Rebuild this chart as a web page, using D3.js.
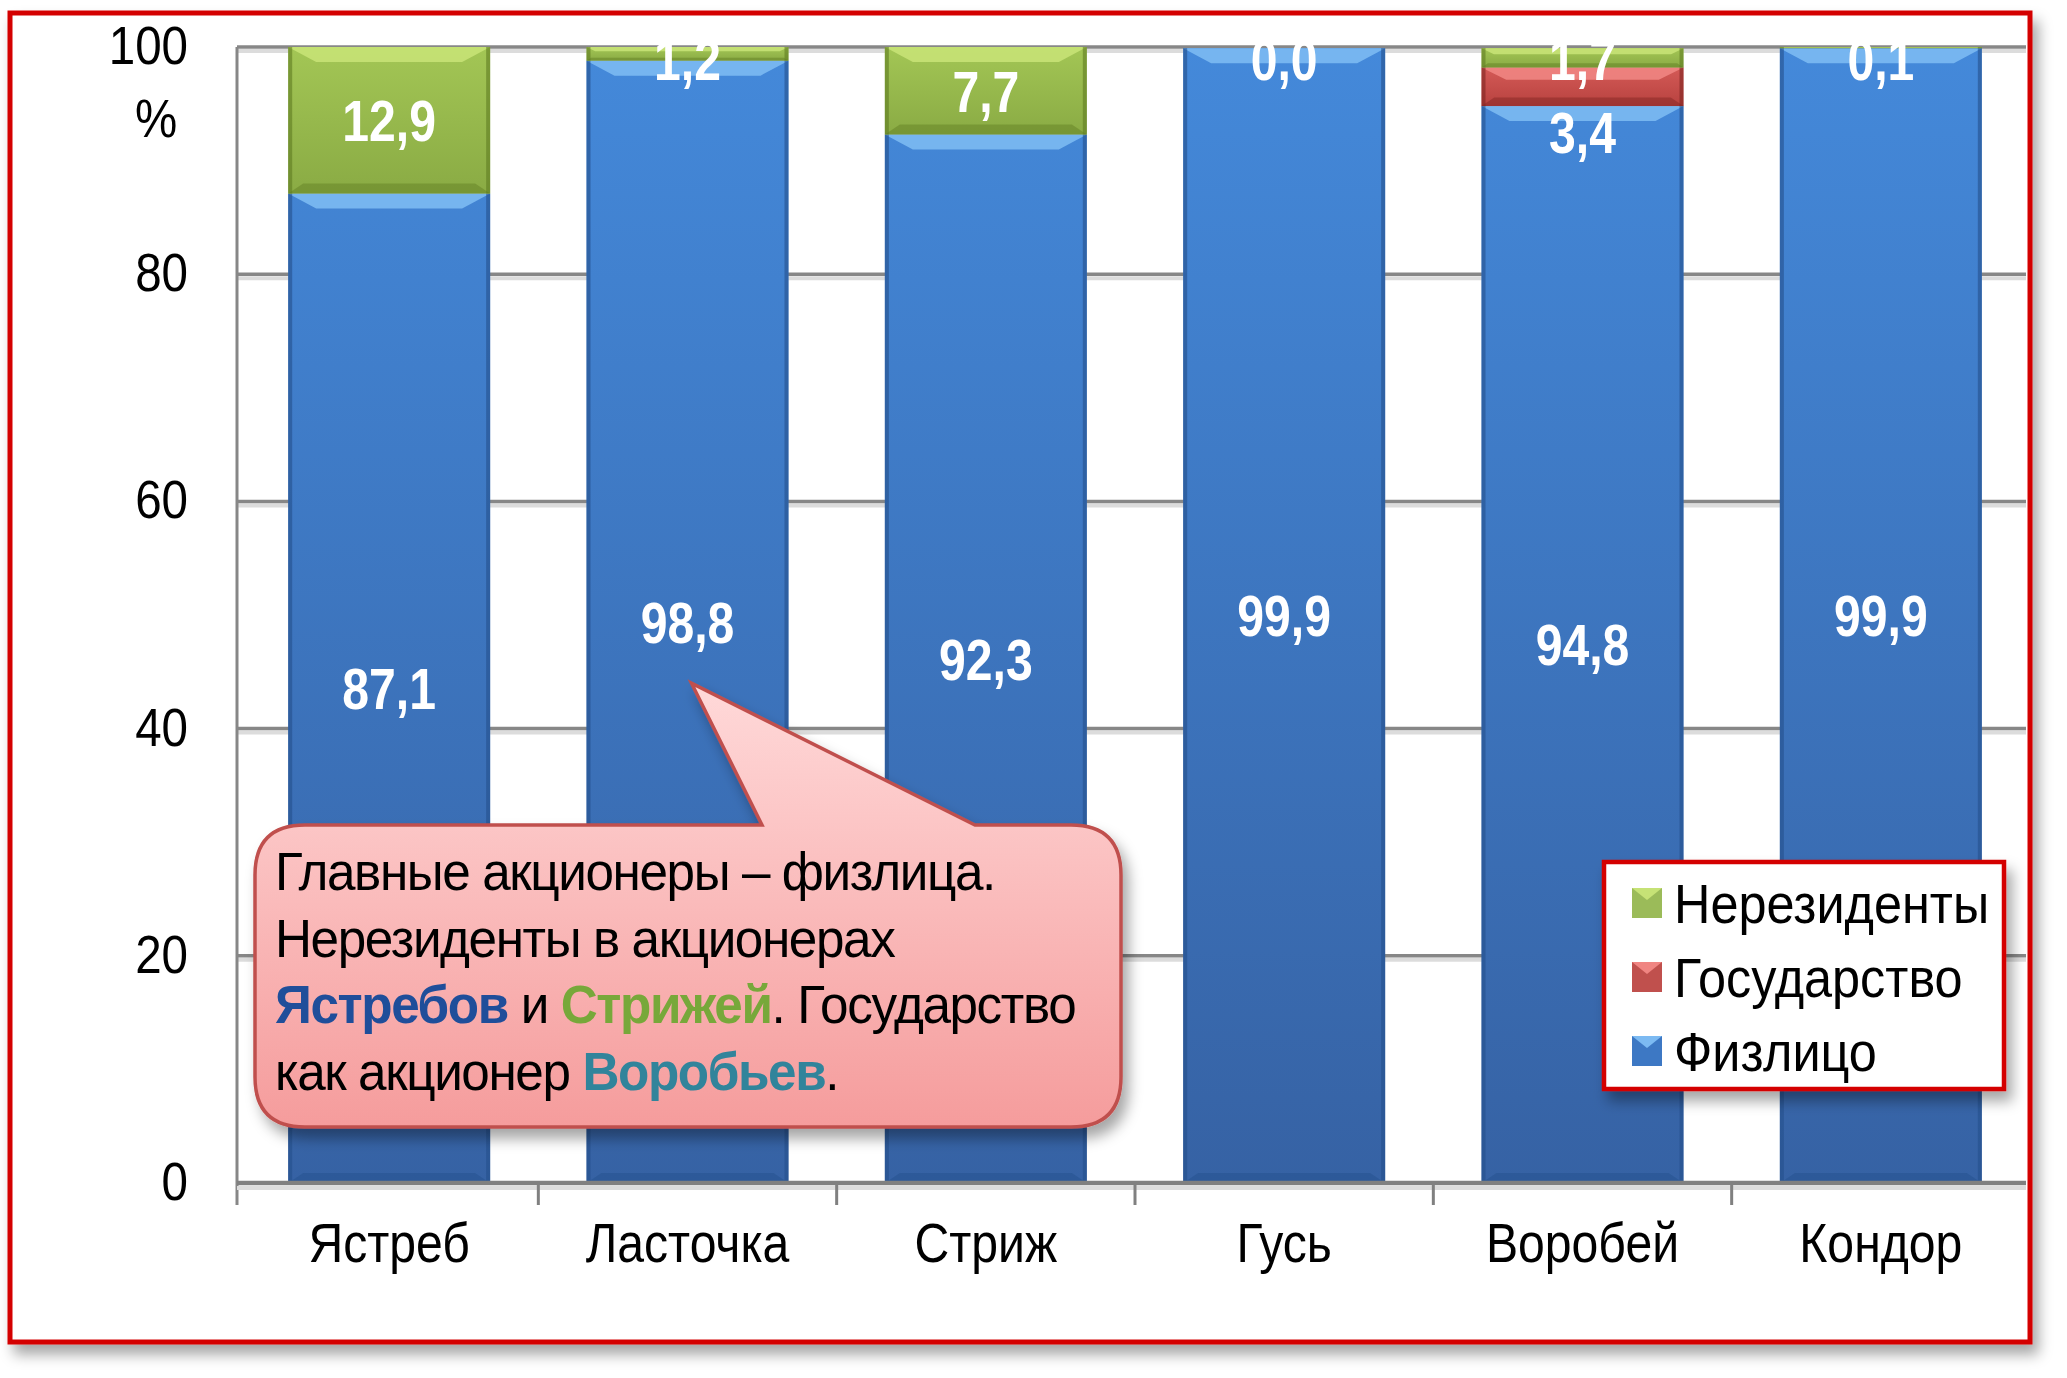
<!DOCTYPE html>
<html>
<head>
<meta charset="utf-8">
<script src="https://cdn.jsdelivr.net/npm/d3@7"></script>
<style>
  html, body { margin: 0; padding: 0; background: #fff; }
  svg { display: block; font-family: "Liberation Sans", Arial, sans-serif; }
</style>
</head>
<body>
<script>
const categories = ["Ястреб", "Ласточка", "Стриж", "Гусь", "Воробей", "Кондор"];
const individuals = [87.1, 98.8, 92.3, 99.9, 94.8, 99.9];
const state = [null, null, null, null, 3.4, null];
const nonResidents = [12.9, 1.2, 7.7, 0.0, 1.7, 0.1];
const seriesNames = ["Физлицо", "Государство", "Нерезиденты"];
const yTicks = [0, 20, 40, 60, 80, 100];

const width = 2067, height = 1378;
const pLeft = 237, pRight = 2026, pTop = 47, pBottom = 1183;

const svg = d3.select("body").append("svg")
  .attr("width", width).attr("height", height);
const defs = svg.append("defs");

// shadow for boxes
const sh = defs.append("filter").attr("id", "shadow").attr("x", "-5%").attr("y", "-5%").attr("width", "115%").attr("height", "120%");
sh.append("feDropShadow").attr("dx", 6).attr("dy", 10).attr("stdDeviation", 7).attr("flood-color", "#000").attr("flood-opacity", 0.35);

const grad = (id, stops, y1, y2, user) => {
  const g = defs.append("linearGradient").attr("id", id)
    .attr("x1", 0).attr("x2", 0).attr("y1", y1).attr("y2", y2);
  if (user) g.attr("gradientUnits", "userSpaceOnUse");
  stops.forEach(([o, c]) => g.append("stop").attr("offset", o).attr("stop-color", c));
};
grad("blueMain", [[0, "#4489da"], [1, "#3662a4"]], pTop, pBottom, true);
grad("greenMain", [[0, "#a3c655"], [1, "#8aab44"]], 0, 1);
grad("redMain", [[0, "#d45a57"], [1, "#b8423f"]], 0, 1);
grad("note", [[0, "#ffd9d9"], [1, "#f59c9c"]], 0, 1);

const palette = {
  "Физлицо": { main: "url(#blueMain)", light: "#7cbaf2", dark: "#24508c", legend: "#3d78c4" },
  "Государство": { main: "url(#redMain)", light: "#f08582", dark: "#7e2422", legend: "#c0504d" },
  "Нерезиденты": { main: "url(#greenMain)", light: "#c6e276", dark: "#5f7c22", legend: "#9bbb59" }
};

// outer frame
svg.append("rect").attr("x", 10).attr("y", 13).attr("width", 2020).attr("height", 1329)
  .attr("fill", "#fff").attr("stroke", "#d40000").attr("stroke-width", 5)
  .attr("filter", "url(#shadow)");

const x = d3.scaleBand().domain(categories).range([pLeft + 3, pRight + 4]).paddingInner(0.323).paddingOuter(0.1615);
const y = d3.scaleLinear().domain([0, 100]).range([pBottom, pTop]);

// gridlines with a soft shadow line under each
const grid = svg.append("g");
grid.selectAll("line.sh").data(yTicks.filter(d => d > 0)).join("line").attr("class", "sh")
  .attr("x1", pLeft).attr("x2", pRight).attr("y1", d => y(d) + 4).attr("y2", d => y(d) + 4)
  .attr("stroke", "#dcdcdc").attr("stroke-width", 4);
grid.selectAll("line.gl").data(yTicks.filter(d => d > 0)).join("line").attr("class", "gl")
  .attr("x1", pLeft).attr("x2", pRight).attr("y1", d => y(d)).attr("y2", d => y(d))
  .attr("stroke", "#878787").attr("stroke-width", 3.5);

// y axis line
svg.append("line").attr("x1", pLeft).attr("x2", pLeft).attr("y1", pTop).attr("y2", pBottom + 22)
  .attr("stroke", "#878787").attr("stroke-width", 3);

// y tick labels
svg.append("g").selectAll("text").data(yTicks).join("text")
  .attr("transform", d => `translate(188,${y(d) + 17}) scale(0.88,1)`)
  .attr("text-anchor", "end").attr("font-size", 54).attr("fill", "#000")
  .text(d => d);
svg.append("text").attr("transform", `translate(156,137) scale(0.88,1)`)
  .attr("text-anchor", "middle").attr("font-size", 54).text("%");

// stacked data
const rows = categories.map((c, i) => ({
  cat: c,
  "Физлицо": individuals[i],
  "Государство": state[i] ?? 0,
  "Нерезиденты": nonResidents[i],
  labels: { "Физлицо": individuals[i], "Государство": state[i], "Нерезиденты": nonResidents[i] }
}));
const stacked = d3.stack().keys(seriesNames)(rows);

const bw = x.bandwidth();
const barG = svg.append("g");
stacked.forEach(layer => {
  const col = palette[layer.key];
  layer.forEach(seg => {
    const xa = x(seg.data.cat);
    const yt = y(seg[1]), yb = y(seg[0]);
    const h = yb - yt;
    if (h <= 0.5) return;
    const g = barG.append("g");
    g.append("rect").attr("x", xa).attr("y", yt).attr("width", bw).attr("height", h)
      .attr("fill", col.main);
    const bh = Math.min(15, h * 0.32), bi = Math.min(28, bh * 2);
    g.append("path")
      .attr("d", `M${xa},${yt}H${xa + bw}L${xa + bw - bi},${yt + bh}H${xa + bi}Z`)
      .attr("fill", col.light).attr("opacity", 0.9);
    const dh = Math.min(10, h * 0.22);
    g.append("path")
      .attr("d", `M${xa},${yb}H${xa + bw}L${xa + bw - dh * 1.5},${yb - dh}H${xa + dh * 1.5}Z`)
      .attr("fill", col.dark).attr("opacity", 0.45);
    g.append("rect").attr("x", xa).attr("y", yt).attr("width", 4).attr("height", h)
      .attr("fill", col.dark).attr("opacity", 0.6);
    g.append("rect").attr("x", xa + bw - 4).attr("y", yt).attr("width", 4).attr("height", h)
      .attr("fill", col.dark).attr("opacity", 0.6);
  });
});

// x axis baseline and ticks
svg.append("line").attr("x1", pLeft).attr("x2", pRight).attr("y1", pBottom + 5).attr("y2", pBottom + 5)
  .attr("stroke", "#dcdcdc").attr("stroke-width", 4);
svg.append("line").attr("x1", pLeft).attr("x2", pRight).attr("y1", pBottom).attr("y2", pBottom)
  .attr("stroke", "#808080").attr("stroke-width", 4.5);
svg.append("g").selectAll("line").data(d3.range(1, categories.length)).join("line")
  .attr("x1", i => x.range()[0] + i * x.step())
  .attr("x2", i => x.range()[0] + i * x.step())
  .attr("y1", pBottom).attr("y2", pBottom + 22)
  .attr("stroke", "#808080").attr("stroke-width", 3);

// category labels
svg.append("g").selectAll("text").data(categories).join("text")
  .attr("transform", d => `translate(${x(d) + bw / 2},1262) scale(0.86,1)`)
  .attr("text-anchor", "middle").attr("font-size", 56).attr("fill", "#000")
  .text(d => d);

// data labels, clipped to the plot area
defs.append("clipPath").attr("id", "plotClip").append("rect")
  .attr("x", pLeft).attr("y", pTop - 3).attr("width", pRight - pLeft).attr("height", pBottom - pTop);
const fmt = v => d3.format(".1f")(v).replace(".", ",");
const lblG = svg.append("g").attr("clip-path", "url(#plotClip)");
const fs = 58;
stacked.forEach(layer => {
  layer.forEach(seg => {
    const v = seg.data.labels[layer.key];
    if (v == null) return;
    let cy = (y(seg[0]) + y(seg[1])) / 2;
    if (layer.key === "Государство") cy = y(seg[0]) + fs * 0.45;
    cy = Math.max(cy, pTop + 12);
    lblG.append("text")
      .attr("transform", `translate(${x(seg.data.cat) + bw / 2},${cy + fs * 0.36}) scale(0.83,1)`)
      .attr("text-anchor", "middle").attr("font-size", fs).attr("font-weight", "bold")
      .attr("fill", "#fff").text(fmt(v));
  });
});

// callout pointing at the Ласточка bar
const note = svg.append("g").attr("filter", "url(#shadow)");
const nx0 = 255, nx1 = 1121, ny0 = 825, ny1 = 1127, r = 50;
const tipX = x("Ласточка") + bw / 2 + 4;
note.append("path")
  .attr("d", `M${nx0 + r},${ny0} H762 L${tipX},${y(44)} L975,${ny0} H${nx1 - r}
    Q${nx1},${ny0} ${nx1},${ny0 + r} V${ny1 - r} Q${nx1},${ny1} ${nx1 - r},${ny1}
    H${nx0 + r} Q${nx0},${ny1} ${nx0},${ny1 - r} V${ny0 + r} Q${nx0},${ny0} ${nx0 + r},${ny0}Z`)
  .attr("fill", "url(#note)").attr("stroke", "#c0504d").attr("stroke-width", 3.5);

const noteLines = [
  [["Главные акционеры – физлица.", "#000", false]],
  [["Нерезиденты в акционерах", "#000", false]],
  [["Ястребов", "#1f4e9a", true], [" и ", "#000", false], ["Стрижей", "#77a83a", true], [". Государство", "#000", false]],
  [["как акционер ", "#000", false], ["Воробьев", "#31849b", true], [".", "#000", false]]
];
noteLines.forEach((parts, i) => {
  const t = svg.append("text")
    .attr("transform", `translate(275,${890 + i * 66.7}) scale(0.95,1)`)
    .attr("font-size", 54).attr("letter-spacing", -1.5);
  parts.forEach(([s, c, b]) => t.append("tspan").attr("fill", c)
    .attr("font-weight", b ? "bold" : "normal").text(s));
});

// legend
const lg = svg.append("g");
lg.append("rect").attr("x", 1604).attr("y", 862).attr("width", 400).attr("height", 227)
  .attr("fill", "#fff").attr("stroke", "#d40000").attr("stroke-width", 4.5)
  .attr("filter", "url(#shadow)");
const legendOrder = ["Нерезиденты", "Государство", "Физлицо"];
legendOrder.forEach((name, i) => {
  const cy = 903 + i * 74;
  const col = palette[name];
  lg.append("rect").attr("x", 1632).attr("y", cy - 15).attr("width", 30).attr("height", 30)
    .attr("fill", col.legend);
  lg.append("path").attr("d", `M1632,${cy - 15}H1662L1647,${cy - 3}Z`).attr("fill", col.light);
  lg.append("text").attr("transform", `translate(1674,${cy + 20}) scale(0.9,1)`)
    .attr("font-size", 56).attr("fill", "#000").text(name);
});
</script>
</body>
</html>
